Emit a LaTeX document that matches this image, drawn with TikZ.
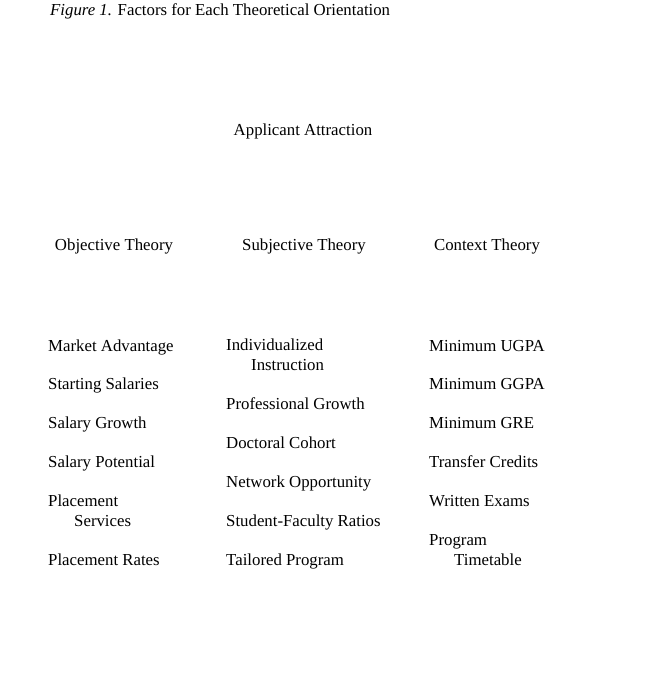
\documentclass[tikz,border=0pt]{standalone}
\usepackage{fontspec}
\setmainfont{Liberation Serif}
\usepackage{tikz}

\begin{document}
\begin{tikzpicture}[x=1pt, y=-1pt,
every node/.style = {shape=rectangle, align=left, inner sep=0pt, anchor=base west,
  font=\fontsize{16.8}{19.5}\selectfont, color=black},
head/.style = {anchor=base},
item/.style = {anchor=base west}]
\useasboundingbox (0,0) rectangle (660,686);
%
\node (caption) at (50,15) {\textit{Figure 1.} Factors for Each Theoretical Orientation};
\node[head] (attraction) at (303,135) {Applicant Attraction};
%
\node[head] (objective) at (114,250) {Objective Theory};
\node[head] (subjective) at (304,250) {Subjective Theory};
\node[head] (context) at (487,250) {Context Theory};
%
\node[item] (market) at (48,351) {Market Advantage};
\node[item] (starting) at (48,389) {Starting Salaries};
\node[item] (growth) at (48,428) {Salary Growth};
\node[item] (potential) at (48,467) {Salary Potential};
\node[item] (services) at (48,526) {Placement \\ \hspace{26pt}Services};
\node[item] (rates) at (48,565) {Placement Rates};
%
\node[item] (instruction) at (226,370) {Individualized \\ \hspace{25pt}Instruction};
\node[item] (professional) at (226,409) {Professional Growth};
\node[item] (cohort) at (226,448) {Doctoral Cohort};
\node[item] (network) at (226,487) {Network Opportunity};
\node[item] (ratios) at (226,526) {Student-Faculty Ratios};
\node[item] (tailored) at (226,565) {Tailored Program};
%
\node[item] (ugpa) at (429,351) {Minimum UGPA};
\node[item] (ggpa) at (429,389) {Minimum GGPA};
\node[item] (gre) at (429,428) {Minimum GRE};
\node[item] (transfer) at (429,467) {Transfer Credits};
\node[item] (exams) at (429,506) {Written Exams};
\node[item] (timetable) at (429,565) {Program \\ \hspace{25pt}Timetable};
\end{tikzpicture}
\end{document}
